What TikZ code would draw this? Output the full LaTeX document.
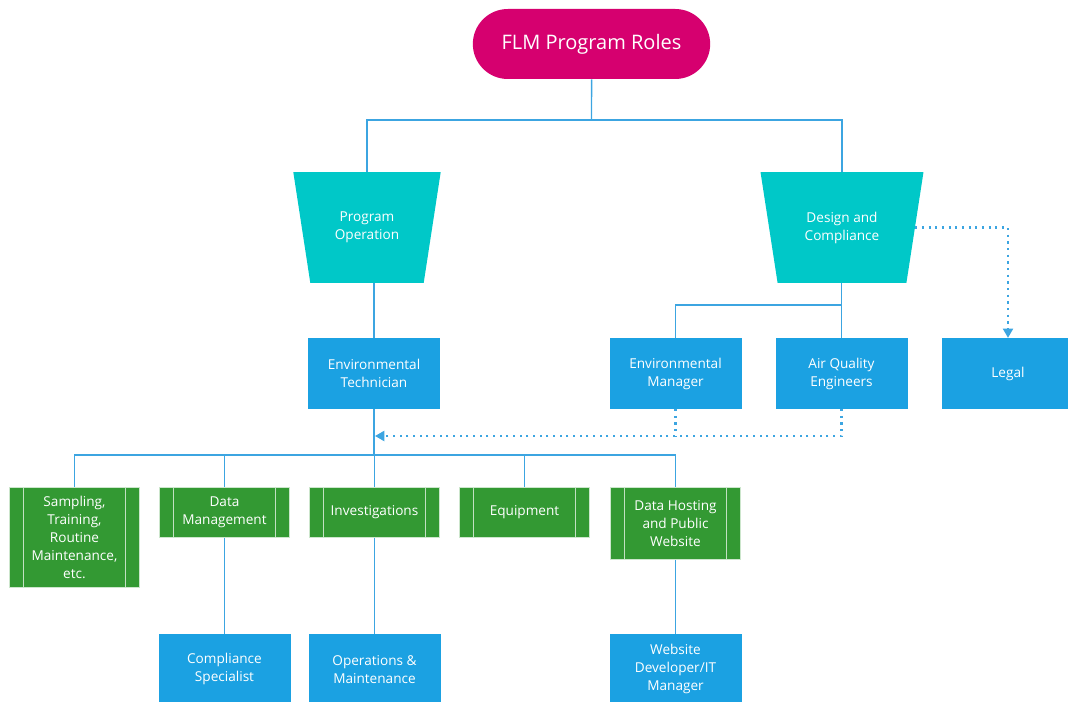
\documentclass[tikz,border=0pt]{standalone}
\usepackage{fontspec}
\setmainfont{Open Sans}
\usetikzlibrary{shapes, positioning, arrows.meta, calc}
\definecolor{flmpink}{RGB}{214,0,111}
\definecolor{flmcyan}{RGB}{0,200,200}
\definecolor{flmblue}{RGB}{27,161,226}
\definecolor{flmgreen}{RGB}{51,153,51}
\definecolor{flmline}{RGB}{60,165,225}

\begin{document}
\begin{tikzpicture}[x=0.75pt, y=-0.75pt,
    every node/.style={text=white, align=center, inner sep=2pt, font=\fontsize{10.2}{13.5}\selectfont},
    title/.style={rounded rectangle, fill=flmpink, minimum width=182pt, minimum height=52.5pt, font=\fontsize{15}{18}\selectfont},
    funnel/.style={trapezium, shape border rotate=180, trapezium angle=74, trapezium stretches=true, fill=flmcyan, minimum height=83pt},
    role/.style={fill=flmblue, minimum width=99pt, minimum height=53pt},
    proc/.style={fill=flmgreen, draw=white!75!flmgreen, line width=0.6pt, minimum width=98pt, anchor=north,
        path picture={\draw[white!70!flmgreen, line width=0.9pt]
            ([xshift=11pt]path picture bounding box.north west) -- ([xshift=11pt]path picture bounding box.south west)
            ([xshift=-11pt]path picture bounding box.north east) -- ([xshift=-11pt]path picture bounding box.south east);}},
    link/.style={draw=flmline, line width=1.1pt},
    dots/.style={draw=flmline, line width=1.6pt, dash pattern=on 1.6pt off 3.4pt},
    >={Triangle[width=7.5pt,length=7pt]}]

\useasboundingbox (0,0) rectangle (1068,702);

% Titel
\node[title] (flm) at (591.5,44) {FLM Program Roles};

% Bereiche
\node[funnel, minimum width=111pt] (po) at (367,227.5) {Program\\Operation};
\node[funnel, minimum width=123pt] (dc) at (842,227.5) {Design and\\Compliance};

% Rollen
\node[role] (et) at (374,373.5) {Environmental\\Technician};
\node[role] (em) at (675.5,373.5) {Environmental\\Manager};
\node[role] (aqe) at (841.5,373.5) {Air Quality\\Engineers};
\node[role] (legal) at (1008,373.5) {Legal};

% Aufgaben
\node[proc, minimum height=75pt] (smp) at (74.5,487) {Sampling,\\Training,\\Routine\\Maintenance,\\etc.};
\node[proc, minimum height=37.5pt] (dm) at (224.5,487) {Data\\Management};
\node[proc, minimum height=37.5pt] (inv) at (374.5,487) {Investigations};
\node[proc, minimum height=37.5pt] (eq) at (524.5,487) {Equipment};
\node[proc, minimum height=54pt] (dh) at (675.5,487) {Data Hosting\\and Public\\Website};

\node[role, below=72pt of dm] (cs) {Compliance\\Specialist};
\node[role, below=72pt of inv] (om) {Operations \&\\Maintenance};
\node[role, below=55.5pt of dh] (wd) {Website\\Developer/IT\\Manager};

% Linien
\coordinate (ctop) at (591.5,120);
\draw[link] (flm) -- (ctop);
\draw[link] (po) |- (ctop) -| (dc);
\draw[link] (et.north) -- (et.north |- po.south);

\coordinate (rbus) at (841.5,305);
\draw[link] (aqe.north) -- (aqe.north |- dc.south);
\draw[link] (em) |- (rbus);

\draw[dots,->] (dc.east) -| (legal);
\coordinate (fb) at (375,436);
\draw[dots,->] (aqe) |- (fb);
\draw[dots] (em) -- (em |- fb);

\coordinate (bus) at (374,455);
\draw[link] (et) -- (bus);
\draw[link] (smp) |- (bus) -| (dh);
\foreach \n in {dm,inv,eq}
    \draw[link] (\n) -- (\n |- bus);
\foreach \a/\b in {dm/cs,inv/om,dh/wd}
    \draw[link] (\a) -- (\b);

\end{tikzpicture}
\end{document}
